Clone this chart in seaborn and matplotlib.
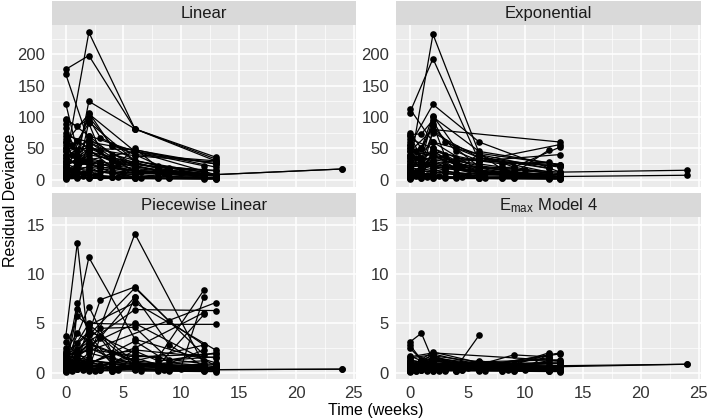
import pandas as pd
import seaborn as sns
import matplotlib.pyplot as plt
from matplotlib.ticker import MultipleLocator

sns.set_style("white")
plt.rcParams['font.family'] = ['Liberation Sans', 'DejaVu Sans']
plt.rcParams['mathtext.default'] = 'regular'

# time points of each study (shared by all four models)
weeks = [
    [0, 2, 6, 13], [0, 2, 6, 13], [0, 2, 6, 12], [0, 1, 2, 4, 6, 12],
    [0, 1, 2, 3, 6, 9, 12], [0, 2, 4, 8, 12], [0, 2, 6, 13, 24],
    [0, 0.5, 1, 2, 3, 4, 6], [0, 2, 4, 6, 8, 10, 12], [0, 1, 2, 6, 13],
    [0, 2, 13], [0, 6, 13], [0, 1, 3, 6, 9, 13], [0, 2, 6, 12],
    [0, 1, 2, 4, 8, 12], [0, 3, 6, 9, 12], [0, 2, 6, 13],
    [0, 1, 2, 3, 4, 6, 8, 10, 12], [0, 2, 4, 6, 8, 13], [0, 6, 12],
    [0, 1, 2, 6, 12], [0, 2, 6, 13, 24], [0, 0.5, 1, 1.5, 2, 3, 4, 6, 8],
    [0, 2, 6, 9, 13], [0, 1, 2, 6], [0, 4, 8, 12], [0, 2, 6, 13],
    [0, 1, 2, 4, 6, 9, 12], [0, 2, 13], [0, 6, 13], [0, 1, 2, 6, 12],
    [0, 2, 4, 6, 13], [0, 3, 6, 12], [0, 1, 2, 3, 6, 12, 13],
    [0, 2, 6, 8.5, 13], [0, 1, 2, 6, 13],
    [0, 0.5, 1, 1.5, 2, 2.5, 3, 4, 4.5, 6, 6.5, 8, 9, 12, 13],
    [0, 1, 2, 4, 6, 8.5, 12, 13], [0, 0.5, 1, 2, 3, 4, 5, 6],
    [0, 2, 4, 6, 9, 12], [0, 1, 2, 3, 4, 6, 9, 12, 13], [0, 1.5, 3, 6.5, 13],
    [0, 2, 4.5, 6, 8.5, 13], [0, 1, 2, 6, 12],
]

linear = [
    [176, 198, 81, 36], [30, 235, 81, 33], [168, 60, 25, 12], [121, 45, 107, 53, 30, 12],
    [95, 85, 97, 67, 40, 15, 10], [97, 70, 40, 22, 15], [60, 105, 45, 8, 17],
    [88, 55, 62, 90, 45, 30, 20], [75, 50, 35, 28, 18, 12, 8], [45, 30, 125, 81, 30],
    [70, 60, 25], [50, 48, 20], [40, 35, 28, 22, 10, 6], [35, 65, 20, 8],
    [82, 40, 55, 30, 15, 10], [28, 25, 18, 12, 5], [20, 50, 38, 28],
    [65, 40, 30, 25, 20, 15, 12, 10, 8], [55, 45, 35, 25, 20, 15], [25, 45, 22],
    [15, 10, 92, 30, 8], [12, 20, 10, 8, 17], [10, 8, 12, 6, 15, 5, 4, 3, 2],
    [8, 40, 25, 18, 14], [5, 20, 30, 10], [18, 12, 9, 6], [3, 15, 5, 3],
    [6, 4, 8, 5, 3, 2, 2], [4, 2, 1], [2, 5, 3], [1, 2, 60, 12, 4],
    [12, 100, 55, 40, 30], [30, 20, 15, 8], [9, 5, 3, 4, 2, 1, 1],
    [7, 35, 12, 10, 6], [50, 35, 70, 45, 25],
    [20, 15, 12, 10, 9, 8, 6, 5, 4, 4, 3, 3, 2, 2, 2],
    [35, 25, 48, 20, 15, 10, 7, 6], [60, 40, 30, 25, 18, 12, 10, 8],
    [45, 55, 30, 25, 15, 10], [25, 18, 20, 12, 10, 8, 5, 4, 3], [15, 30, 20, 12, 8],
    [22, 45, 25, 50, 12, 9], [40, 20, 45, 15, 6],
]

exponential = [
    [107, 193, 30, 22], [20, 232, 42, 24], [113, 60, 40, 18], [75, 50, 102, 50, 35, 12],
    [72, 73, 95, 60, 40, 20, 10], [65, 50, 35, 25, 28], [55, 120, 60, 12, 15],
    [60, 45, 50, 88, 40, 25, 15], [50, 40, 30, 25, 20, 15, 10], [40, 30, 100, 45, 24],
    [45, 80, 60], [35, 30, 56], [30, 25, 22, 18, 20, 52], [25, 60, 15, 8],
    [70, 35, 45, 25, 12, 9], [22, 20, 15, 10, 47], [18, 45, 30, 40],
    [55, 35, 28, 22, 18, 14, 10, 8, 7], [45, 38, 30, 22, 18, 12], [20, 35, 18],
    [12, 8, 80, 20, 6], [10, 15, 8, 5, 7], [8, 6, 10, 5, 12, 4, 3, 2, 2],
    [6, 32, 20, 15, 10], [4, 15, 25, 8], [15, 10, 8, 5], [3, 12, 4, 3],
    [5, 3, 6, 4, 3, 2, 2], [3, 2, 1], [2, 4, 2], [1, 2, 50, 10, 3],
    [10, 85, 45, 30, 24], [25, 18, 12, 6], [8, 4, 3, 3, 2, 1, 1],
    [6, 30, 10, 8, 5], [40, 28, 75, 35, 20],
    [15, 12, 10, 8, 8, 6, 5, 4, 4, 3, 3, 2, 2, 2, 2],
    [30, 20, 40, 18, 12, 10, 8, 10], [50, 35, 25, 20, 15, 10, 8, 6],
    [38, 45, 25, 20, 12, 8], [20, 15, 18, 10, 8, 6, 5, 4, 4], [12, 25, 18, 10, 6],
    [18, 38, 20, 42, 10, 8], [35, 18, 38, 12, 5],
]

piecewise = [
    [1.2, 5.0, 4.9, 4.9], [0.5, 11.7, 3.4, 1.0], [2.0, 1.5, 14.1, 0.8],
    [3.7, 13.2, 2.5, 1.5, 0.9, 0.6], [0.8, 7.1, 4.0, 7.4, 8.7, 5.2, 2.8],
    [1.0, 6.7, 2.0, 1.5, 8.4], [0.6, 3.0, 1.2, 0.3, 0.35],
    [0.4, 0.9, 6.5, 4.5, 3.5, 2.0, 7.7], [0.7, 1.2, 1.0, 1.5, 0.8, 0.5, 7.7],
    [2.5, 5.7, 4.8, 7.1, 2.3], [1.8, 2.2, 7.1], [1.5, 6.4, 6.3],
    [0.9, 2.4, 4.5, 4.6, 1.3, 2.0], [0.3, 3.8, 8.6, 1.8],
    [2.2, 4.0, 3.2, 1.0, 0.7, 5.9], [0.5, 3.6, 7.7, 2.8, 0.6], [1.1, 2.8, 5.0, 0.7],
    [0.6, 0.4, 0.8, 0.5, 0.6, 0.7, 0.5, 0.4, 0.3], [1.9, 0.9, 2.0, 2.2, 1.2, 1.6],
    [0.2, 2.5, 6.1], [0.8, 1.5, 0.7, 1.2, 2.8], [0.3, 0.6, 0.4, 0.3, 0.35],
    [0.2, 0.3, 0.5, 0.4, 0.6, 0.3, 0.2, 0.4, 0.2], [1.4, 0.8, 3.2, 1.0, 0.6],
    [0.1, 3.0, 4.2, 2.0], [1.7, 0.9, 0.5, 2.3], [0.4, 1.2, 0.6, 0.9],
    [0.9, 0.5, 1.0, 0.6, 0.4, 0.3, 0.2], [0.3, 0.2, 0.1], [0.2, 0.8, 0.4],
    [0.5, 0.9, 4.9, 1.0, 0.6], [2.0, 3.9, 0.9, 2.3, 1.5], [1.3, 0.6, 1.8, 0.9],
    [0.7, 1.0, 0.5, 3.6, 0.7, 0.4, 0.5], [0.4, 2.9, 1.1, 0.6, 0.8],
    [3.1, 1.8, 2.4, 1.6, 1.9],
    [0.3, 0.2, 0.4, 0.3, 0.5, 0.2, 0.3, 0.2, 0.4, 0.3, 0.2, 0.3, 0.2, 0.3, 0.2],
    [0.8, 1.2, 0.6, 0.9, 0.5, 0.7, 0.4, 0.6], [1.0, 0.6, 2.0, 1.1, 0.8, 0.5, 0.7, 0.4],
    [0.5, 0.8, 0.4, 0.6, 0.5, 0.3], [0.2, 0.4, 0.3, 0.5, 0.2, 0.4, 0.3, 0.2, 0.3],
    [0.6, 1.1, 0.4, 0.7, 0.5], [0.4, 0.7, 0.3, 1.0, 0.3, 0.5], [1.6, 1.0, 2.0, 0.8, 1.2],
]

emax = [
    [0.6, 2.1, 1.0, 0.7], [0.3, 1.9, 0.8, 0.5], [1.0, 0.6, 0.9, 0.4],
    [3.1, 4.0, 1.2, 0.9, 1.1, 0.6], [0.5, 1.0, 0.9, 0.7, 0.8, 1.8, 1.6],
    [0.8, 1.4, 0.6, 0.5, 2.0], [0.4, 0.7, 0.6, 0.7, 0.85],
    [0.3, 0.5, 1.1, 0.9, 0.6, 0.5, 3.8], [0.5, 0.7, 0.6, 0.5, 0.6, 0.4, 1.9],
    [2.8, 1.3, 1.0, 0.6, 2.0], [1.6, 2.0, 1.2], [0.9, 0.7, 1.9],
    [0.6, 0.8, 0.7, 0.5, 0.9, 1.1], [0.2, 1.6, 0.6, 0.4],
    [1.7, 1.2, 1.0, 0.7, 0.5, 1.8], [0.4, 0.6, 1.1, 0.8, 0.6], [0.7, 1.1, 0.9, 0.5],
    [0.5, 0.3, 0.6, 0.4, 0.5, 0.5, 0.4, 0.3, 0.3], [1.3, 0.8, 0.7, 0.9, 0.7, 1.0],
    [0.2, 0.8, 1.4], [0.6, 1.0, 0.5, 0.7, 1.5], [0.3, 0.5, 0.4, 0.6, 0.85],
    [0.2, 0.2, 0.4, 0.3, 0.5, 0.3, 0.2, 0.3, 0.2], [1.0, 0.6, 1.2, 0.7, 0.5],
    [0.1, 1.2, 1.5, 0.9], [1.2, 0.7, 0.4, 1.2], [0.4, 0.9, 0.5, 0.6],
    [0.7, 0.4, 0.6, 0.5, 0.3, 0.3, 0.2], [0.3, 0.2, 0.1], [0.2, 0.6, 0.3],
    [0.4, 0.6, 1.3, 0.7, 0.5], [1.5, 1.8, 0.7, 1.0, 0.9], [0.9, 0.5, 1.0, 0.6],
    [0.5, 0.7, 0.4, 1.0, 0.6, 0.3, 0.4], [0.3, 1.4, 0.8, 0.5, 0.6],
    [2.5, 1.3, 1.7, 1.1, 1.3],
    [0.2, 0.2, 0.3, 0.2, 0.3, 0.2, 0.2, 0.2, 0.3, 0.2, 0.2, 0.2, 0.2, 0.2, 0.2],
    [0.6, 0.8, 0.5, 0.6, 0.4, 0.5, 0.3, 0.4], [0.8, 0.5, 1.2, 0.7, 0.6, 0.4, 0.5, 0.3],
    [0.4, 0.6, 0.3, 0.5, 0.4, 0.3], [0.2, 0.3, 0.2, 0.4, 0.2, 0.3, 0.2, 0.2, 0.2],
    [0.5, 0.8, 0.3, 0.5, 0.4], [0.3, 0.5, 0.3, 0.7, 0.3, 0.4], [1.2, 0.8, 1.4, 0.6, 0.9],
]

models = ['Linear', 'Exponential', 'Piecewise Linear', r'$E_{max}$ Model 4']
model_values = [linear, exponential, piecewise, emax]

rows = []
for model, values in zip(models, model_values):
    for study, (wk, dev) in enumerate(zip(weeks, values)):
        for w, d in zip(wk, dev):
            rows.append({'model': model, 'study': study, 'week': w, 'dev': d})
df = pd.DataFrame(rows)

W, H = 709, 419
fig = plt.figure(figsize=(W / 100, H / 100), dpi=100)

# panel boxes in pixels: (left, right) and (top, bottom)
cols = [(52, 356), (396, 701)]
rows_px = [(25, 187), (217, 379)]
strip_h = 24
ylims = [(-11.75, 246.75), (-0.65, 15.8)]
ymajor = [50, 5]

for i, model in enumerate(models):
    r, c = divmod(i, 2)
    x0, x1 = cols[c]
    y0, y1 = rows_px[r]
    ax = fig.add_axes([x0 / W, 1 - y1 / H, (x1 - x0) / W, (y1 - y0) / H])
    sub = df[df['model'] == model]
    sns.lineplot(data=sub, x='week', y='dev', units='study', estimator=None,
                 color='black', lw=0.9, marker='o', markersize=4.8,
                 markeredgewidth=0, sort=False, ax=ax)
    ax.set_facecolor('#EBEBEB')
    ax.set_xlim(-1.2, 25.2)
    ax.set_ylim(*ylims[r])
    ax.xaxis.set_major_locator(MultipleLocator(5))
    ax.xaxis.set_minor_locator(MultipleLocator(2.5))
    ax.yaxis.set_major_locator(MultipleLocator(ymajor[r]))
    ax.yaxis.set_minor_locator(MultipleLocator(ymajor[r] / 2))
    ax.grid(which='major', color='white', lw=1.1)
    ax.grid(which='minor', color='white', lw=0.5)
    ax.set_axisbelow(True)
    for s in ax.spines.values():
        s.set_visible(False)
    ax.tick_params(which='major', length=3, width=0.8, color='#333333',
                   labelsize=12, labelcolor='#333333', pad=2)
    ax.tick_params(which='minor', length=0)
    ax.set_xlabel('')
    ax.set_ylabel('')
    if r == 0:
        ax.tick_params(axis='x', labelbottom=False, length=0)
    ticks = ax.get_yticks()
    ax.set_yticks([t for t in ticks if t >= 0 and t <= ylims[r][1]])

    # strip
    sax = fig.add_axes([x0 / W, 1 - y0 / H, (x1 - x0) / W, strip_h / H])
    sax.set_facecolor('#D9D9D9')
    sax.set_xticks([])
    sax.set_yticks([])
    for s in sax.spines.values():
        s.set_visible(False)
    sax.text(0.5, 0.48, model, ha='center', va='center', fontsize=12,
             color='#1a1a1a', transform=sax.transAxes)

fig.text(376 / W, 1 - 410 / H, 'Time (weeks)', ha='center', va='center',
         fontsize=11.5, color='black')
fig.text(11 / W, 1 - 200 / H, 'Residual Deviance', ha='center', va='center',
         rotation=90, fontsize=11.5, color='black')

fig.savefig('out.png', dpi=100)
